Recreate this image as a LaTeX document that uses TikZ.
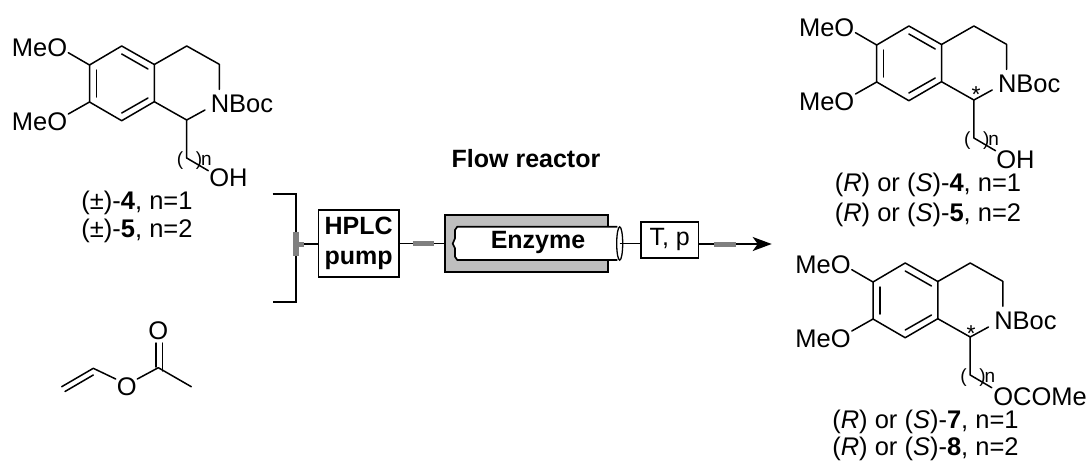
\documentclass[tikz,border=0pt]{standalone}
\usepackage{fontspec}
\usepackage{xcolor}
\setmainfont{Liberation Sans}
\usetikzlibrary{arrows.meta, shapes.geometric}
\definecolor{tubegray}{RGB}{128,128,128}
\definecolor{jacketgray}{RGB}{190,190,190}
\tikzset{
  bond/.style={line width=1.5pt, line cap=round, line join=round},
  atom/.style={inner sep=0pt, anchor=base, font=\fontsize{25.5}{28}\selectfont},
  small atom/.style={inner sep=0pt, anchor=base, font=\fontsize{19}{22}\selectfont},
  unit/.style={draw=black, line width=1.7pt, inner sep=0pt, align=center, font=\fontsize{25}{30.7}\selectfont\bfseries},
  pipe/.style={line width=1.7pt},
  graypipe/.style={line width=5pt, draw=tubegray}
}

\begin{document}
\begin{tikzpicture}[x=1pt, y=-1pt]
  \useasboundingbox (0,0) rectangle (1088,461);
  % the three dihydroisoquinolines
  \foreach \mx/\my/\i in {0/0/a,787.2/-20/b,783.5/217/c}
  {
    \draw[bond, shift={(\mx,\my)}] (68.3,52.7) -- (89.5,65) -- (121.7,46) -- (154.3,64.5)
        -- (154.3,101.7) -- (121.7,120.7) -- (89.5,102) -- (89.5,65);
    \draw[bond, shift={(\mx,\my)}] (96.5,70) -- (96.5,97);
    \draw[bond, shift={(\mx,\my)}] (121.7,54) -- (148,69);
    \draw[bond, shift={(\mx,\my)}] (121.7,113) -- (148,98);
    \draw[bond, shift={(\mx,\my)}] (68.3,114) -- (89.5,102);
    \draw[bond, shift={(\mx,\my)}] (154.3,64.5) -- (186.7,46) -- (219.3,64.3) -- (219.3,89.3);
    \draw[bond, shift={(\mx,\my)}] (154.3,101.7) -- (186.7,120) -- (205,110);
    \draw[bond, shift={(\mx,\my)}] (186.7,120) -- (186.7,158) -- (208.3,170.7);
    \node[atom, shift={(\mx,\my)}] (meotop\i) at (39.5,56.7) {MeO};
    \node[atom, shift={(\mx,\my)}] (meobot\i) at (39.5,130.7) {MeO};
    \node[atom, shift={(\mx,\my)}] (nboc\i) at (242,112.7) {NBoc};
    \node[small atom, shift={(\mx,\my)}] (lpar\i) at (180,165) {(};
    \node[small atom, shift={(\mx,\my)}] (rpar\i) at (199,165) {)};
    \node[small atom, shift={(\mx,\my)}] (nsub\i) at (206.5,165) {n};
  }
  \node[atom] (oh) at (228.5,186.7) {OH};
  \node[atom] (ohb) at (1015.5,168) {OH};
  \node[atom] (ococme) at (1040,405) {OCOMe};
  \node[atom, font=\fontsize{23}{26}\selectfont] (stara) at (976,102) {*};
  \node[atom, font=\fontsize{23}{26}\selectfont] (starb) at (971,341) {*};
  % compound labels
  \node[atom] (labela) at (137,209.3) {(±)-\textbf{4}, n=1};
  \node[atom] (labelb) at (137,237) {(±)-\textbf{5}, n=2};
  \node[atom] (labelc) at (928,191.7) {(\textit{R}) or (\textit{S})-\textbf{4}, n=1};
  \node[atom] (labeld) at (928,221) {(\textit{R}) or (\textit{S})-\textbf{5}, n=2};
  \node[atom] (labele) at (925.5,428.5) {(\textit{R}) or (\textit{S})-\textbf{7}, n=1};
  \node[atom] (labelf) at (925.5,455.3) {(\textit{R}) or (\textit{S})-\textbf{8}, n=2};
  % vinyl acetate
  \draw[bond] (61.7,386.7) -- (93.3,368.3) -- (115.7,379);
  \draw[bond] (65,391.5) -- (93.3,375);
  \draw[bond] (137.3,379) -- (158.3,367.7) -- (191.3,386.7);
  \draw[bond] (156,367) -- (156,343);
  \draw[bond] (162.7,371) -- (162.7,343);
  \node[atom] (oester) at (126.7,395.7) {O};
  \node[atom] (ocarbonyl) at (158.3,339.7) {O};
  % flow set-up
  \node[atom, font=\fontsize{25}{28}\selectfont\bfseries] (title) at (526,167) {Flow reactor};
  \draw[pipe] (272.7,194) -- (296,194) -- (296,302.3) -- (272.7,302.3);
  \coordinate (inlet) at (296,244);
  \coordinate (stub) at (304,244);
  \node[unit, minimum width=80.7pt, minimum height=67.4pt] (hplc) at (358.7,243.5) {HPLC\\pump};
  \node[unit, fill=jacketgray, minimum width=162.4pt, minimum height=56.4pt] (jacket) at (526.5,243.5) {};
  \draw[pipe, fill=white] (617.3,226.7) -- (457.3,226.7) -- (455,230) -- (455,238.3) -- (452.7,243.7)
      -- (455,248.3) -- (455,256.7) -- (457.3,260) -- (617.3,260);
  \node[draw=black, line width=1.3pt, fill=white, ellipse, inner sep=0pt, minimum width=6pt, minimum height=33.3pt] (tubeend) at (619.7,243.5) {};
  \node[inner sep=0pt, font=\fontsize{25}{28}\selectfont\bfseries] (enzyme) at (538,242) {Enzyme};
  \node[unit, font=\fontsize{25}{28}\selectfont, minimum width=57.3pt, minimum height=36pt] (tp) at (669.7,239.7) {T, p};
  \coordinate (outlet) at (771.7,244);
  \draw[graypipe, line width=5.7pt] (296,231.7) -- (296,256);
  \draw[graypipe] (inlet) -- (stub);
  \draw[pipe] (stub) -- (hplc.west |- stub);
  \draw[pipe] (hplc.east) -- coordinate[pos=.287] (pa) coordinate[pos=.762] (pb) (jacket.west);
  \draw[graypipe] (pa) -- (pb);
  \draw[pipe] (tubeend.center) -- (tp.west |- tubeend.center);
  \draw[pipe, -{Stealth[length=19pt, width=14pt, inset=5pt]}] (tp.east |- outlet)
      -- coordinate[pos=.204] (pc) coordinate[pos=.51] (pd) (outlet);
  \draw[graypipe] (pc) -- (pd);
\end{tikzpicture}
\end{document}
